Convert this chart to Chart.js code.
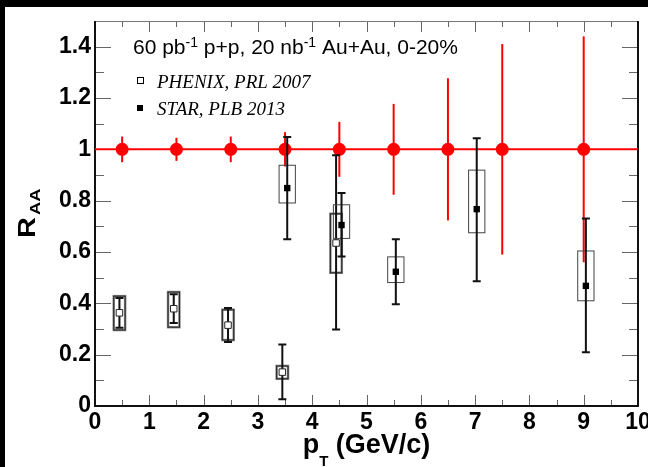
<!DOCTYPE html>
<html>
<head>
<meta charset="utf-8">
<script src="https://cdn.jsdelivr.net/npm/chart.js@4.4.0/dist/chart.umd.min.js"></script>
<style>
  html, body { margin: 0; padding: 0; background: #fff; }
  #wrap { width: 648px; height: 467px; }
</style>
</head>
<body>
<div id="wrap"><canvas id="raa" width="648" height="467"></canvas></div>
<script>
// projected R_AA = 1 points with their uncertainties
var projX = [0.5, 1.5, 2.5, 3.5, 4.5, 5.5, 6.5, 7.5, 9.0];
var projY = [1, 1, 1, 1, 1, 1, 1, 1, 1];
var projErr = [0.05, 0.045, 0.05, 0.067, 0.107, 0.177, 0.277, 0.41, 0.44];

// PHENIX, PRL 2007
var phenixX = [0.45, 1.45, 2.45, 3.45, 4.44];
var phenixY = [0.363, 0.379, 0.315, 0.132, 0.635];
var phenixStatLo = [0.305, 0.323, 0.249, 0.026, 0.298];
var phenixStatHi = [0.421, 0.435, 0.382, 0.240, 0.977];
var phenixSysLo = [0.296, 0.307, 0.257, 0.106, 0.519];
var phenixSysHi = [0.428, 0.444, 0.375, 0.156, 0.749];

// STAR, PLB 2013
var starX = [3.54, 4.54, 5.54, 7.03, 9.04];
var starY = [0.849, 0.705, 0.523, 0.767, 0.468];
var starStatLo = [0.650, 0.582, 0.396, 0.486, 0.209];
var starStatHi = [1.048, 0.830, 0.650, 1.043, 0.731];
var starSysLo = [0.791, 0.653, 0.481, 0.675, 0.410];
var starSysHi = [0.938, 0.784, 0.581, 0.919, 0.604];

var xTicks = [0, 1, 2, 3, 4, 5, 6, 7, 8, 9, 10];
var yTicks = [0, 0.2, 0.4, 0.6, 0.8, 1, 1.2, 1.4];
var legendLabels = ['PHENIX, PRL 2007', 'STAR, PLB 2013'];

function pts(xs, ys) {
  return xs.map(function (x, i) { return { x: x, y: ys[i] }; });
}

// background with the dark strips along top and left
var backdrop = {
  id: 'backdrop',
  beforeDraw: function (chart) {
    var ctx = chart.ctx;
    ctx.save();
    ctx.fillStyle = '#fff';
    ctx.fillRect(0, 0, chart.width, chart.height);
    ctx.fillStyle = '#000';
    ctx.fillRect(0, 0, chart.width, 7);
    ctx.fillRect(0, 0, 5, chart.height);
    ctx.restore();
  }
};

// frame with inward ticks on all four sides
var frame = {
  id: 'frame',
  beforeDatasetsDraw: function (chart) {
    var ctx = chart.ctx, a = chart.chartArea;
    var xs = chart.scales.x, ys = chart.scales.y;
    ctx.save();
    ctx.strokeStyle = '#666';
    ctx.lineWidth = 1;
    ctx.beginPath();
    for (var i = 0; i <= 20; i++) {
      var px = Math.round(xs.getPixelForValue(i / 2)) + 0.5;
      var len = (i % 2 === 0) ? 11 : 6;
      ctx.moveTo(px, a.bottom); ctx.lineTo(px, a.bottom - len);
      ctx.moveTo(px, a.top); ctx.lineTo(px, a.top + len);
    }
    for (var j = 0; j <= 15; j++) {
      var py = Math.round(ys.getPixelForValue(j / 10)) + 0.5;
      var l2 = (j % 2 === 0) ? 16 : 9;
      ctx.moveTo(a.left, py); ctx.lineTo(a.left + l2, py);
      ctx.moveTo(a.right, py); ctx.lineTo(a.right - l2, py);
    }
    ctx.stroke();

    ctx.strokeStyle = '#777';
    ctx.lineWidth = 1;
    ctx.beginPath();
    ctx.moveTo(a.left, a.top + 0.5); ctx.lineTo(a.right, a.top + 0.5);
    ctx.stroke();

    ctx.strokeStyle = '#111';
    ctx.lineWidth = 2;
    ctx.beginPath();
    ctx.moveTo(a.left, a.top); ctx.lineTo(a.left, a.bottom); ctx.lineTo(a.right, a.bottom); ctx.lineTo(a.right, a.top);
    ctx.stroke();
    ctx.restore();
  }
};

// statistical bars and systematic boxes, drawn just below each dataset's markers
var errorBars = {
  id: 'errorBars',
  beforeDatasetDraw: function (chart, args) {
    var ds = chart.data.datasets[args.index];
    var e = ds.err;
    if (!e) return;
    var ctx = chart.ctx, xs = chart.scales.x, ys = chart.scales.y;
    ctx.save();
    ds.data.forEach(function (p, i) {
      var px = xs.getPixelForValue(p.x);
      if (e.sysLo) {
        var bx0 = xs.getPixelForValue(p.x - e.boxHalf);
        var bx1 = xs.getPixelForValue(p.x + e.boxHalf);
        var by0 = ys.getPixelForValue(e.sysHi[i]);
        var by1 = ys.getPixelForValue(e.sysLo[i]);
        e.boxStroke.forEach(function (s) {
          ctx.strokeStyle = s[0];
          ctx.lineWidth = s[1];
          ctx.strokeRect(bx0, by0, bx1 - bx0, by1 - by0);
        });
      }
      var y0 = ys.getPixelForValue(e.lo[i]);
      var y1 = ys.getPixelForValue(e.hi[i]);
      ctx.strokeStyle = e.color;
      ctx.lineWidth = 2;
      ctx.beginPath();
      ctx.moveTo(px, y0); ctx.lineTo(px, y1);
      if (e.cap) {
        ctx.moveTo(px - e.cap, y0); ctx.lineTo(px + e.cap, y0);
        ctx.moveTo(px - e.cap, y1); ctx.lineTo(px + e.cap, y1);
      }
      ctx.stroke();
    });
    ctx.restore();
  }
};

// header line, legend and axis titles
var annotations = {
  id: 'annotations',
  afterDraw: function (chart) {
    var ctx = chart.ctx, a = chart.chartArea;
    ctx.save();
    ctx.fillStyle = '#000';
    ctx.textBaseline = 'alphabetic';
    ctx.textAlign = 'left';

    // 60 pb^-1 p+p, 20 nb^-1 Au+Au, 0-20%
    var parts = [['60 pb', 0], ['-1', 1], [' p+p, 20 nb', 0], ['-1', 1], [' Au+Au, 0-20%', 0]];
    var x = 133;
    parts.forEach(function (p) {
      if (p[1]) {
        ctx.font = '14px "Liberation Sans", Arial, sans-serif';
        ctx.fillText(p[0], x, 47);
      } else {
        ctx.font = '21px "Liberation Sans", Arial, sans-serif';
        ctx.fillText(p[0], x, 54);
      }
      x += ctx.measureText(p[0]).width;
    });

    // legend
    ctx.font = 'italic 19px "Liberation Serif", "Times New Roman", serif';
    ctx.fillText(legendLabels[0], 157, 88);
    ctx.fillText(legendLabels[1], 157, 115);
    ctx.strokeStyle = '#000';
    ctx.lineWidth = 1;
    ctx.fillStyle = '#fff';
    ctx.fillRect(137, 77, 6, 6);
    ctx.strokeRect(137.5, 77.5, 6, 6);
    ctx.fillStyle = '#000';
    ctx.fillRect(137, 105, 6, 6);

    // x title: p_T (GeV/c)
    ctx.font = 'bold 27px "Liberation Sans", Arial, sans-serif';
    var wp = ctx.measureText('p').width;
    var wr = ctx.measureText(' (GeV/c)').width;
    ctx.font = 'bold 15px "Liberation Sans", Arial, sans-serif';
    var wt = ctx.measureText('T').width;
    var sx = (a.left + a.right) / 2 - (wp + wt + wr) / 2;
    ctx.font = 'bold 27px "Liberation Sans", Arial, sans-serif';
    ctx.fillText('p', sx, 453);
    ctx.fillText(' (GeV/c)', sx + wp + wt, 453);
    ctx.font = 'bold 15px "Liberation Sans", Arial, sans-serif';
    ctx.fillText('T', sx + wp, 466);

    // y title: R_AA, set a little wide along the text direction
    ctx.translate(35, 238);
    ctx.rotate(-Math.PI / 2);
    ctx.save();
    ctx.scale(1.2, 1);
    ctx.font = 'bold 24px "Liberation Sans", Arial, sans-serif';
    ctx.fillText('R', 0, 0);
    ctx.restore();
    ctx.save();
    ctx.translate(23, 5);
    ctx.scale(1.3, 1);
    ctx.font = 'bold 14px "Liberation Sans", Arial, sans-serif';
    ctx.fillText('AA', 0, 0);
    ctx.restore();
    ctx.restore();
  }
};

var redLine = [{ x: 0, y: 1 }, { x: 10, y: 1 }];

new Chart(document.getElementById('raa'), {
  type: 'scatter',
  data: {
    datasets: [
      {
        label: legendLabels[1],
        data: pts(starX, starY),
        pointStyle: 'rect',
        pointRadius: 4.5,
        backgroundColor: '#000',
        borderColor: '#000',
        borderWidth: 0,
        err: { lo: starStatLo, hi: starStatHi, sysLo: starSysLo, sysHi: starSysHi,
               boxHalf: 0.15, cap: 4, color: '#111', boxStroke: [['#444', 1]] }
      },
      {
        label: legendLabels[0],
        data: pts(phenixX, phenixY),
        pointStyle: 'rect',
        pointRadius: 4.6,
        backgroundColor: '#fff',
        borderColor: '#222',
        borderWidth: 1,
        err: { lo: phenixStatLo, hi: phenixStatHi, sysLo: phenixSysLo, sysHi: phenixSysHi,
               boxHalf: 0.105, cap: 4, color: '#111', boxStroke: [['#888', 2.5], ['#222', 1]] }
      },
      {
        label: 'projection',
        data: pts(projX, projY),
        pointStyle: 'circle',
        pointRadius: 6.5,
        backgroundColor: '#ff0000',
        borderWidth: 0,
        err: { lo: projY.map(function (v, i) { return v - projErr[i]; }),
               hi: projY.map(function (v, i) { return v + projErr[i]; }),
               cap: 0, color: '#ff0000' }
      },
      {
        type: 'line',
        label: 'unity',
        data: redLine,
        borderColor: '#ff0000',
        borderWidth: 2,
        pointRadius: 0
      }
    ]
  },
  options: {
    responsive: false,
    animation: false,
    devicePixelRatio: 1,
    layout: { padding: { left: 0, top: 21, right: 10, bottom: 0 } },
    plugins: { legend: { display: false }, tooltip: { enabled: false } },
    scales: {
      x: {
        type: 'linear',
        min: 0,
        max: 10,
        afterBuildTicks: function (scale) {
          scale.ticks = xTicks.map(function (v) { return { value: v }; });
        },
        afterFit: function (scale) {
          scale.height = 61;
          scale.paddingLeft = 0; scale.paddingRight = 0;
        },
        grid: { display: false, drawTicks: false },
        border: { display: false },
        ticks: {
          padding: 3,
          maxRotation: 0,
          autoSkip: false,
          color: '#000',
          font: { family: '"Liberation Sans", Arial, sans-serif', size: 23, weight: 'bold' },
          callback: function (v) { return String(v); }
        }
      },
      y: {
        min: 0,
        max: 1.5,
        afterBuildTicks: function (scale) {
          scale.ticks = yTicks.map(function (v) { return { value: v }; });
        },
        afterFit: function (scale) {
          scale.width = 95;
          scale.paddingTop = 0; scale.paddingBottom = 0;
        },
        grid: { display: false, drawTicks: false },
        border: { display: false },
        ticks: {
          padding: 4,
          autoSkip: false,
          color: '#000',
          font: { family: '"Liberation Sans", Arial, sans-serif', size: 23, weight: 'bold' },
          callback: function (v) { return String(v); }
        }
      }
    }
  },
  plugins: [backdrop, frame, errorBars, annotations]
});
</script>
</body>
</html>
